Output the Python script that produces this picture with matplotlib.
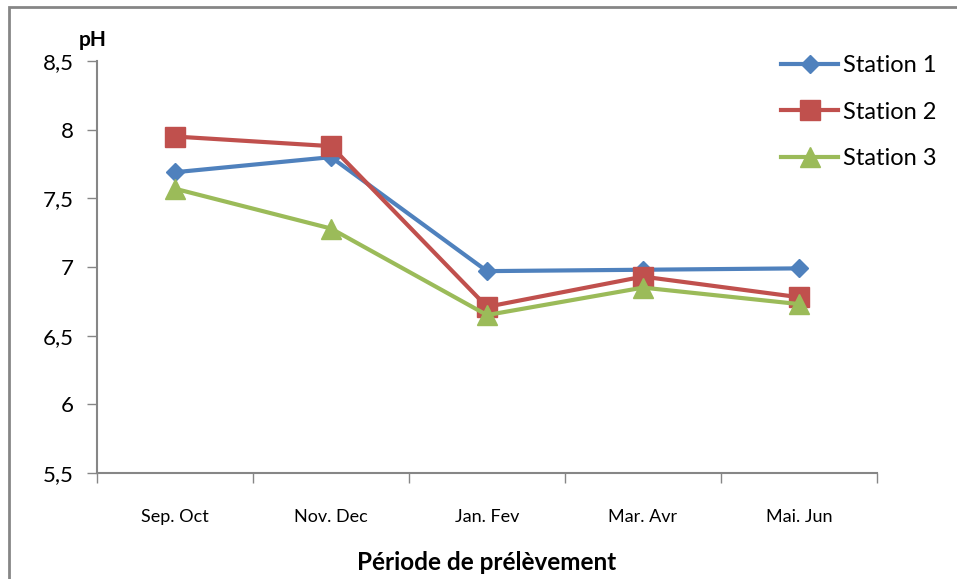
import matplotlib.pyplot as plt
from matplotlib.patches import Rectangle
import numpy as np

# périodes de prélèvement et valeurs de pH par station
periodes = ['Sep. Oct', 'Nov. Dec', 'Jan. Fev', 'Mar. Avr', 'Mai. Jun']
station1 = [7.69, 7.80, 6.97, 6.98, 6.99]
station2 = [7.95, 7.88, 6.71, 6.93, 6.78]
station3 = [7.57, 7.28, 6.65, 6.85, 6.73]

plt.rcParams['font.family'] = ['Lato', 'DejaVu Sans']

fig = plt.figure(figsize=(9.57, 5.79), dpi=100)
W, H = 957, 579
ax = fig.add_axes([97 / W, 1 - 473 / H, (877 - 97) / W, (473 - 61) / H])

# cadre gris autour du graphique
fig.patches.append(Rectangle((9 / W, -0.1), 1.2, 1 - 7 / H + 0.1,
                             transform=fig.transFigure, fill=False,
                             edgecolor='#868686', linewidth=2))

x = np.arange(len(periodes))
ax.plot(x, station1, color='#4F81BD', lw=3, marker='D', ms=9, label='Station 1')
ax.plot(x, station2, color='#C0504D', lw=3, marker='s', ms=14, label='Station 2')
ax.plot(x, station3, color='#9BBB59', lw=3, marker='^', ms=14, label='Station 3')

ax.set_xlim(-0.5, len(periodes) - 0.5)
ax.set_ylim(5.5, 8.5)
yt = np.arange(5.5, 8.51, 0.5)
ax.set_yticks(yt)
ax.set_yticklabels([('%g' % v).replace('.', ',') for v in yt], fontsize=16)
ax.set_xticks(x)
ax.set_xticklabels(periodes, fontsize=13)
ax.set_xticks(np.arange(-0.5, len(periodes)), minor=True)
ax.tick_params(axis='x', which='major', length=0, pad=26)
ax.tick_params(axis='x', which='minor', length=7, color='#868686', width=1)
ax.tick_params(axis='y', length=7, color='#868686', width=1, pad=10)

for s in ['top', 'right']:
    ax.spines[s].set_visible(False)
for s in ['left', 'bottom']:
    ax.spines[s].set_color('#868686')
    ax.spines[s].set_linewidth(1.5)

fig.text(93 / W, 1 - 40 / H, 'pH', fontsize=15, fontweight='bold', ha='center', va='center')
fig.text(487 / W, 1 - 563 / H, 'Période de prélèvement', fontsize=17.5,
         fontweight='bold', ha='center', va='center')

ax.legend(loc='upper left', bbox_to_anchor=(760 / W, 1 - 34 / H),
          bbox_transform=fig.transFigure, frameon=False, fontsize=17,
          handlelength=2.4, labelspacing=1.08, handletextpad=0.2)

fig.savefig('out.png', dpi=100)
